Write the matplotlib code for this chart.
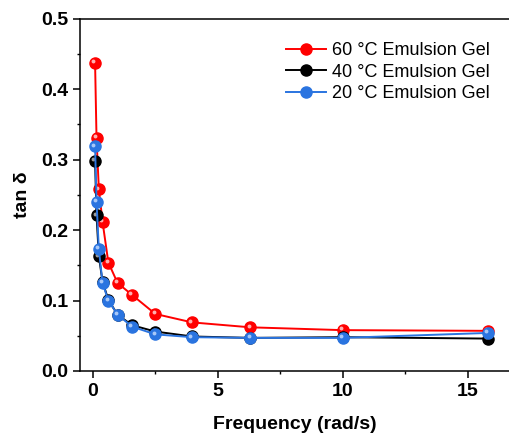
import matplotlib
matplotlib.use("Agg")
import matplotlib.pyplot as plt
from matplotlib.ticker import MultipleLocator
from matplotlib.transforms import offset_copy

plt.rcParams["font.family"] = ["Liberation Sans", "DejaVu Sans"]

# Frequency sweep (rad/s) and tan delta values
freq = [0.1, 0.158, 0.251, 0.398, 0.631, 1.0, 1.58, 2.51, 3.98, 6.31, 10.0, 15.8]
tan_60 = [0.438, 0.331, 0.258, 0.212, 0.154, 0.125, 0.108, 0.081, 0.069, 0.062, 0.058, 0.057]
tan_40 = [0.298, 0.221, 0.163, 0.127, 0.101, 0.080, 0.065, 0.056, 0.049, 0.047, 0.048, 0.046]
tan_20 = [0.319, 0.240, 0.173, 0.125, 0.100, 0.080, 0.063, 0.052, 0.048, 0.047, 0.047, 0.054]

labels = ["60 °C Emulsion Gel", "40 °C Emulsion Gel", "20 °C Emulsion Gel"]
colors = ["#ff0000", "#000000", "#2a74e0"]
highlights = ["#ffb0b0", "#9a9a9a", "#a8c8f8"]

fig = plt.figure(figsize=(5.1, 4.38), dpi=100)
ax = fig.add_axes([0.157, 0.153, 0.843, 0.804])

for y, c, hl, lab in zip([tan_60, tan_40, tan_20], colors, highlights, labels):
    ax.plot(freq, y, color=c, lw=1.4, marker="o", ms=8, mec=c, mfc=c, label=lab)
    # small glossy highlight on each ball
    tr = offset_copy(ax.transData, fig=fig, x=-1.2, y=1.2, units="points")
    ax.plot(freq, y, ls="none", marker="o", ms=2.8, mfc=hl, mec="none", transform=tr)

ax.set_xlim(-0.5, 16.7)
ax.set_ylim(0, 0.5)
ax.xaxis.set_major_locator(MultipleLocator(5))
ax.xaxis.set_minor_locator(MultipleLocator(2.5))
ax.yaxis.set_major_locator(MultipleLocator(0.1))
ax.yaxis.set_minor_locator(MultipleLocator(0.05))
ax.yaxis.set_major_formatter(plt.FormatStrFormatter("%.1f"))

ax.tick_params(which="major", direction="out", length=5, width=1.1, labelsize=14)
ax.tick_params(which="minor", direction="out", length=2.5, width=1.0)
for lab in ax.get_xticklabels() + ax.get_yticklabels():
    lab.set_fontweight("bold")
ax.spines["right"].set_visible(False)
for s in ["left", "bottom", "top"]:
    ax.spines[s].set_linewidth(1.1)

ax.set_xlabel("Frequency (rad/s)", fontsize=14, fontweight="bold", labelpad=12)
ax.set_ylabel("tan δ", fontsize=14, fontweight="bold", labelpad=7)

ax.legend(loc="upper right", bbox_to_anchor=(0.99, 0.98), frameon=False,
          fontsize=13, handlelength=2.2, handletextpad=0.3, labelspacing=0.25)

fig.savefig("out.png", dpi=100)
